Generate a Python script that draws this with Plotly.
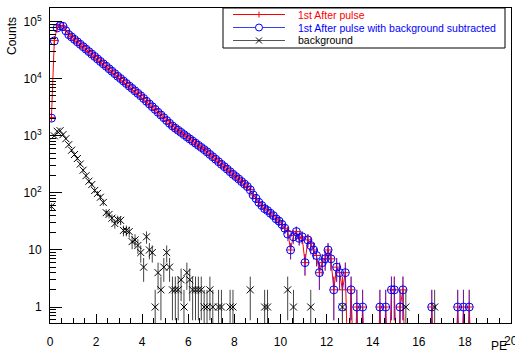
import math
import plotly.graph_objects as go

# Histogram binning: 160 bins of 0.125 PE between 0 and 20
bin_lo, bin_hi, n_bins = 0.0, 20.0, 160
bin_w = (bin_hi - bin_lo) / n_bins
pe_centers = [bin_lo + bin_w * (i + 0.5) for i in range(n_bins)]

# 1st after-pulse counts per bin
after_pulse = [
    2100, 47000, 79000, 86000, 84000, 70000, 60000, 54600, 49400, 44700,
    40500, 36700, 33200, 30100, 27200, 24700, 22300, 20200, 18300, 16600,
    15000, 13600, 12300, 11100, 10100, 9140, 8270, 7480, 6780, 6140,
    5560, 5030, 4520, 4050, 3620, 3240, 2900, 2590, 2320, 2080,
    1860, 1660, 1490, 1360, 1250, 1150, 1050, 966, 885, 813,
    745, 684, 627, 575, 525, 474, 430, 389, 352, 318,
    288, 261, 236, 213, 193, 175, 158, 143, 129, 115,
    92, 80, 68, 60, 54, 50, 44, 40, 35, 32,
    28, 24, 21, 10, 18, 21, 16, 17, 6, 15,
    13, 10, 8, 4, 6, 7, 10, 7, 2, 5,
    4, 2, 4, 0, 2, 0, 1, 0, 1, 0,
    0, 0, 0, 0, 1, 0, 1, 0, 2, 2,
    0, 1, 2, 0, 0, 0, 0, 0, 0, 0,
    0, 0, 1, 0, 0, 0, 0, 0, 0, 0,
    0, 1, 0, 1, 0, 1, 0, 0, 0, 0,
    0, 0, 0, 0, 0, 0, 0, 0, 0, 0,
]

# Background counts per bin
background = [
    58, 1000, 1200, 1230, 1050, 890, 700, 560, 470, 400,
    320, 250, 200, 160, 140, 110, 98, 84, 68, 45,
    42, 36, 29, 34, 33, 22, 22, 21, 14, 15,
    12, 9, 5, 17, 10, 9, 1, 4, 2, 5,
    9, 5, 2, 2, 2, 3, 1, 4, 3, 2,
    2, 2, 2, 1, 1, 2, 1, 0, 1, 1,
    0, 0, 1, 1, 0, 0, 0, 0, 0, 2,
    0, 0, 0, 0, 1, 1, 0, 0, 0, 0,
    0, 0, 2, 0, 1, 0, 0, 0, 0, 0,
    1, 0, 0, 0, 0, 0, 0, 0, 0, 0,
    0, 1, 0, 0, 0, 0, 0, 0, 0, 0,
    0, 0, 0, 0, 0, 0, 0, 0, 0, 0,
    0, 0, 0, 1, 0, 0, 0, 0, 0, 0,
    0, 0, 0, 1, 0, 0, 0, 0, 0, 0,
    0, 0, 0, 0, 0, 0, 0, 0, 0, 0,
    0, 0, 0, 0, 0, 0, 0, 0, 0, 0,
]

x_tick_vals = [0, 2, 4, 6, 8, 10, 12, 14, 16, 18, 20]
x_tick_text = [str(v) for v in x_tick_vals]
y_tick_vals = [1, 10, 100, 1000, 10000, 100000]
y_tick_text = ["1", "10", "10<sup>2</sup>", "10<sup>3</sup>", "10<sup>4</sup>", "10<sup>5</sup>"]

legend_labels = ["1st After pulse", "1st After pulse with background subtracted", "background"]

# background-subtracted spectrum and Poisson errors
subtracted = [a - b for a, b in zip(after_pulse, background)]

FLOOR = 0.05  # below the visible log range; empty bins drop out of view
RED, BLUE, BLACK = "#ff0000", "#0000ff", "#000000"


def lower_err(vals, errs):
    return [min(e, v - FLOOR) if v > 0 else 0 for v, e in zip(vals, errs)]


red_y = [v if v > 0 else FLOOR for v in after_pulse]
red_err = [math.sqrt(v) for v in after_pulse]

blue_y = [v if v > 0 else None for v in subtracted]
blue_err = [math.sqrt(a + b) for a, b in zip(after_pulse, background)]

bg_y = [v if v > 0 else None for v in background]
bg_err = [math.sqrt(v) for v in background]

fig = go.Figure()

fig.add_trace(go.Scatter(
    x=pe_centers, y=red_y, mode="lines+markers", name=legend_labels[0],
    line=dict(color=RED, width=1),
    marker=dict(symbol="cross-thin", size=6, line=dict(color=RED, width=1)),
    error_y=dict(type="data", symmetric=False, array=red_err,
                 arrayminus=lower_err(after_pulse, red_err),
                 color=RED, thickness=1, width=0),
    showlegend=False,
))

fig.add_trace(go.Scatter(
    x=pe_centers, y=blue_y, mode="markers", name=legend_labels[1],
    marker=dict(symbol="circle-open", size=8, color=BLUE, line=dict(color=BLUE, width=1)),
    error_y=dict(type="data", symmetric=False, array=blue_err,
                 arrayminus=lower_err([v if v is not None else 0 for v in blue_y], blue_err),
                 color="rgba(40,40,255,0.75)", thickness=1, width=0),
    showlegend=False,
))

fig.add_trace(go.Scatter(
    x=pe_centers, y=bg_y, mode="markers", name=legend_labels[2],
    marker=dict(symbol="x-thin", size=7, line=dict(color=BLACK, width=1)),
    error_y=dict(type="data", symmetric=False, array=bg_err,
                 arrayminus=lower_err(background, bg_err),
                 color="#444444", thickness=1, width=0),
    showlegend=False,
))

# ---- layout geometry (pixels of the 515x354 canvas) ----
W, H = 515, 354
ML, MR, MT, MB = 50, 4, 8, 31
PW, PH = W - ML - MR, H - MT - MB


def px_x(p):
    return (p - ML) / PW


def px_y(p):
    return (H - MB - p) / PH


FONT = "Liberation Sans, Arial, Helvetica, sans-serif"

fig.update_layout(
    width=W, height=H,
    margin=dict(l=ML, r=MR, t=MT, b=MB, pad=0),
    paper_bgcolor="white", plot_bgcolor="white",
    font=dict(family=FONT, size=11, color="black"),
    showlegend=False,
)

fig.update_xaxes(
    range=[bin_lo, bin_hi], showgrid=False, zeroline=False,
    showline=True, linecolor="black", linewidth=1, mirror=True,
    ticks="inside", ticklen=9, tickcolor="black", tickwidth=1,
    tickvals=x_tick_vals, ticktext=x_tick_text,
    ticklabelstandoff=8,
    minor=dict(ticks="inside", ticklen=5, tickcolor="black", dtick=0.5, showgrid=False),
    tickfont=dict(size=12),
)

fig.update_yaxes(
    type="log", range=[-0.28, 5.24], showgrid=False, zeroline=False,
    showline=True, linecolor="black", linewidth=1, mirror=True,
    ticks="inside", ticklen=12, tickcolor="black", tickwidth=1,
    tickvals=y_tick_vals, ticktext=y_tick_text,
    ticklabelstandoff=5,
    minor=dict(ticks="inside", ticklen=6, tickcolor="black", dtick="D1", showgrid=False),
    tickfont=dict(size=12),
)

# last x label sits on the canvas edge, where plotly drops it; place it explicitly
fig.add_annotation(text=x_tick_text[-1], xref="x", yref="paper",
                   x=x_tick_vals[-1], y=px_y(341), xanchor="center", yanchor="middle",
                   showarrow=False, font=dict(size=12))

# axis titles, ROOT style (right/top aligned)
fig.add_annotation(text="PE", xref="paper", yref="paper",
                   x=px_x(509), y=px_y(346), xanchor="right", yanchor="middle",
                   showarrow=False, font=dict(size=12))
fig.add_annotation(text="Counts", xref="paper", yref="paper",
                   x=px_x(12), y=px_y(15), xanchor="center", yanchor="top",
                   textangle=-90, showarrow=False, font=dict(size=12))

# legend box
box_l, box_r, box_t, box_b = 223, 505, 8, 48
fig.add_shape(type="rect", xref="paper", yref="paper",
              x0=px_x(box_l), x1=px_x(box_r), y0=px_y(box_b), y1=px_y(box_t),
              line=dict(color="black", width=1), fillcolor="white", layer="above")

rows = [14.5, 27.5, 40.5]
line_colors = [RED, "#3c3cff", "#555555"]
text_colors = [RED, BLUE, BLACK]
samp_l, samp_r, samp_c, text_x = 233, 285, 259, 296

for i, (ry, lc) in enumerate(zip(rows, line_colors)):
    fig.add_shape(type="line", xref="paper", yref="paper",
                  x0=px_x(samp_l), x1=px_x(samp_r), y0=px_y(ry), y1=px_y(ry),
                  line=dict(color=lc, width=1), layer="above")
    fig.add_annotation(text=legend_labels[i], xref="paper", yref="paper",
                       x=px_x(text_x), y=px_y(ry), xanchor="left", yanchor="middle",
                       showarrow=False, font=dict(size=10.5, color=text_colors[i]))

# legend marker glyphs (pixel-sized, anchored at the sample centre)
def glyph(kind, ry, color):
    common = dict(xref="paper", yref="paper", xsizemode="pixel", ysizemode="pixel",
                  xanchor=px_x(samp_c), yanchor=px_y(ry), layer="above",
                  line=dict(color=color, width=1))
    if kind == "plus":
        fig.add_shape(type="path", path="M-3,0 L3,0 M0,-3 L0,3", **common)
    elif kind == "circle":
        fig.add_shape(type="circle", x0=-3.5, x1=3.5, y0=-3.5, y1=3.5,
                      fillcolor="white", **common)
    else:
        fig.add_shape(type="path", path="M-3,-3 L3,3 M-3,3 L3,-3", **common)


glyph("plus", rows[0], RED)
glyph("circle", rows[1], BLUE)
glyph("x", rows[2], BLACK)

fig.write_html("out.html")
